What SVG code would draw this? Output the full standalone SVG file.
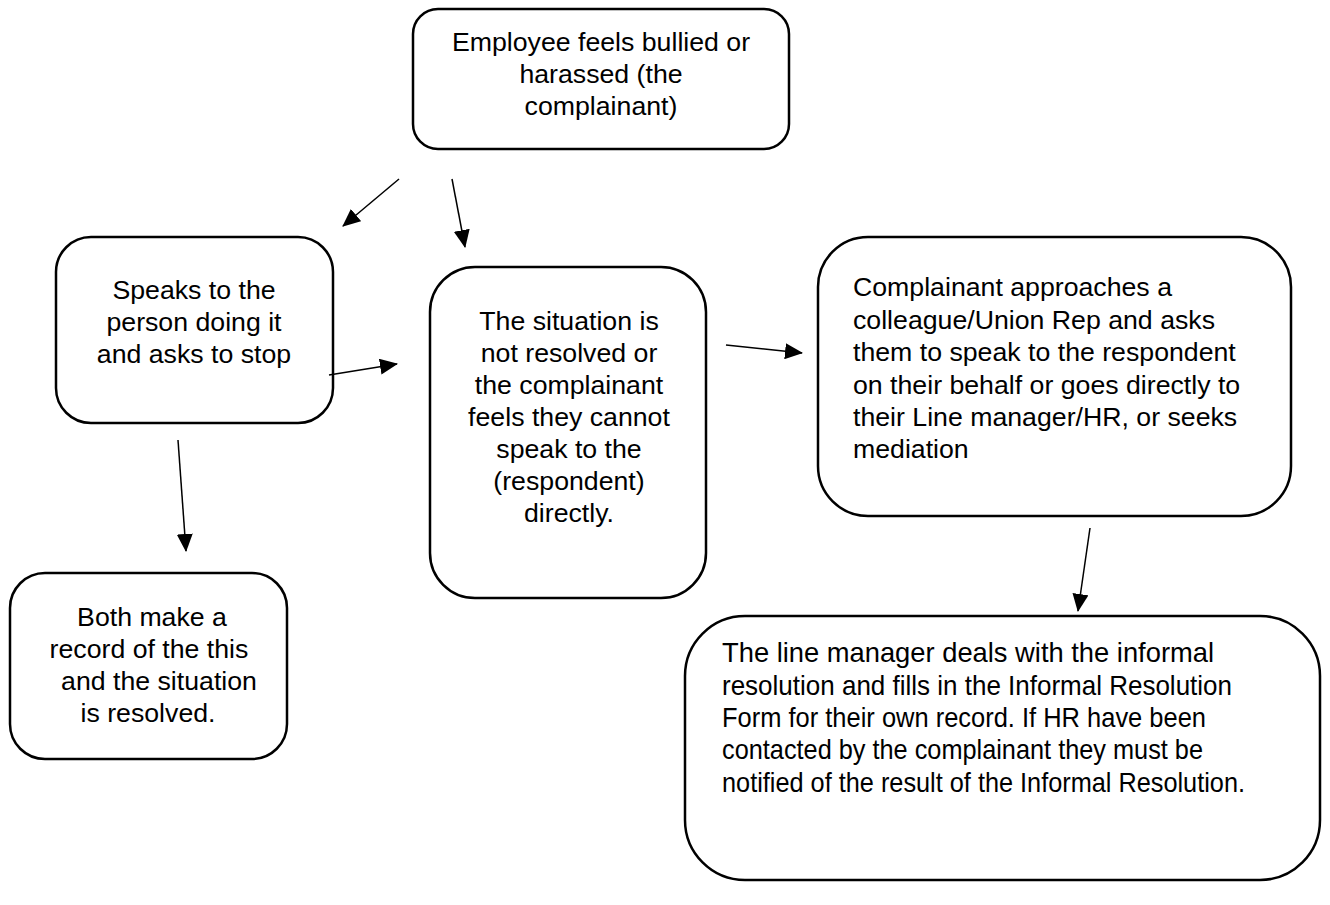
<svg xmlns="http://www.w3.org/2000/svg" width="1330" height="905" viewBox="0 0 1330 905">
<defs>
<marker id="ah" markerUnits="userSpaceOnUse" markerWidth="18" markerHeight="16" refX="17" refY="8" orient="auto">
<path d="M0,0 L18,8 L0,16 z" fill="#000"/>
</marker>
<style>
.box{fill:#fff;stroke:#000;stroke-width:2.5}
.t{font-family:"Liberation Sans",Arial,sans-serif;font-size:26.7px;fill:#000}
.c{text-anchor:middle}
.lm{font-family:"Liberation Sans",Arial,sans-serif;font-size:28px;fill:#000}
.e{stroke:#000;stroke-width:1.5;fill:none;marker-end:url(#ah)}
</style>
</defs>
<rect width="1330" height="905" fill="#fff"/>
<g id="n-employee">
<rect class="box" x="413" y="9" width="376" height="140" rx="25"/>
<text class="t c" x="601" y="51">Employee feels bullied or</text>
<text class="t c" x="601" y="83">harassed (the</text>
<text class="t c" x="601" y="115">complainant)</text>
</g>
<g id="n-speaks">
<rect class="box" x="56" y="237" width="277" height="186" rx="35"/>
<text class="t c" x="194" y="299">Speaks to the</text>
<text class="t c" x="194" y="331">person doing it</text>
<text class="t c" x="194" y="363">and asks to stop</text>
</g>
<g id="n-situation">
<rect class="box" x="430" y="267" width="276" height="331" rx="45"/>
<text class="t c" x="569" y="330">The situation is</text>
<text class="t c" x="569" y="362">not resolved or</text>
<text class="t c" x="569" y="394">the complainant</text>
<text class="t c" x="569" y="426">feels they cannot</text>
<text class="t c" x="569" y="458">speak to the</text>
<text class="t c" x="569" y="490">(respondent)</text>
<text class="t c" x="569" y="522">directly.</text>
</g>
<g id="n-complainant">
<rect class="box" x="818" y="237" width="473" height="279" rx="50"/>
<text class="t" x="853" y="296">Complainant approaches a</text>
<text class="t" x="853" y="328.5">colleague/Union Rep and asks</text>
<text class="t" x="853" y="361">them to speak to the respondent</text>
<text class="t" x="853" y="393.5">on their behalf or goes directly to</text>
<text class="t" x="853" y="426">their Line manager/HR, or seeks</text>
<text class="t" x="853" y="458">mediation</text>
</g>
<g id="n-both">
<rect class="box" x="10" y="573" width="277" height="186" rx="35"/>
<text class="t c" x="152" y="626">Both make a</text>
<text class="t c" x="149" y="658">record of the this</text>
<text class="t c" x="159" y="690">and the situation</text>
<text class="t c" x="148" y="722">is resolved.</text>
</g>
<g id="n-linemanager">
<rect class="box" x="685" y="616" width="635" height="264" rx="60"/>
<text class="lm" x="722" y="662" textLength="492" lengthAdjust="spacingAndGlyphs">The line manager deals with the informal</text>
<text class="lm" x="722" y="695" textLength="510" lengthAdjust="spacingAndGlyphs">resolution and fills in the Informal Resolution</text>
<text class="lm" x="722" y="727" textLength="484" lengthAdjust="spacingAndGlyphs">Form for their own record. If HR have been</text>
<text class="lm" x="722" y="759" textLength="481" lengthAdjust="spacingAndGlyphs">contacted by the complainant they must be</text>
<text class="lm" x="722" y="792" textLength="523" lengthAdjust="spacingAndGlyphs">notified of the result of the Informal Resolution.</text>
</g>
<g id="connectors">
<line class="e" x1="399" y1="179" x2="343" y2="226"/>
<line class="e" x1="452" y1="179" x2="465" y2="247"/>
<line class="e" x1="329" y1="375" x2="397" y2="364"/>
<line class="e" x1="726" y1="345" x2="802" y2="353"/>
<line class="e" x1="178" y1="440" x2="186" y2="551"/>
<line class="e" x1="1090" y1="528" x2="1078" y2="611"/>
</g>
</svg>
